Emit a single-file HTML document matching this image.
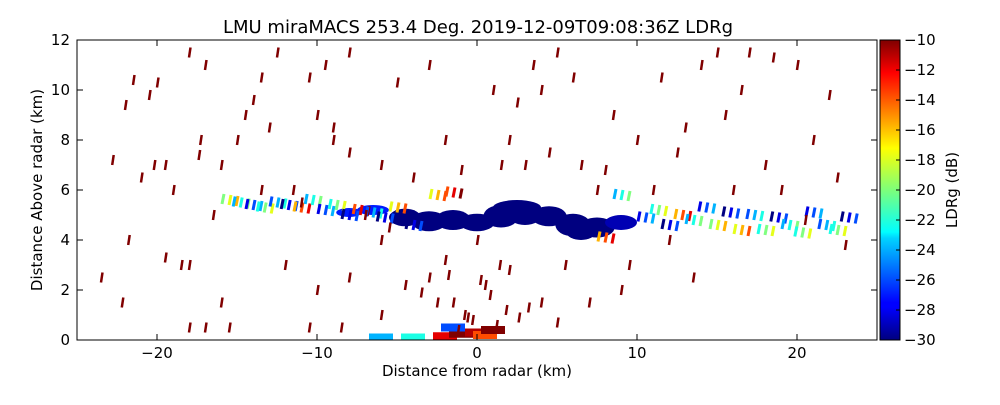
<!DOCTYPE html>
<html><head><meta charset="utf-8"><style>
body{margin:0;background:#fff;font-family:"Liberation Sans","DejaVu Sans",sans-serif}
svg text{font-family:"DejaVu Sans","Liberation Sans",sans-serif}
</style></head><body>
<svg id="c" width="1000" height="400" xmlns="http://www.w3.org/2000/svg">
<defs><linearGradient id="jet" x1="0" y1="1" x2="0" y2="0">
<stop offset="0" stop-color="#00007f"/><stop offset="0.11" stop-color="#0000ff"/><stop offset="0.125" stop-color="#0000ff"/><stop offset="0.34" stop-color="#00d4ff"/><stop offset="0.36" stop-color="#0ff"/><stop offset="0.5" stop-color="#7dff7a"/><stop offset="0.64" stop-color="#ff0"/><stop offset="0.66" stop-color="#ffea00"/><stop offset="0.89" stop-color="#f00"/><stop offset="1" stop-color="#7f0000"/></linearGradient>
<clipPath id="pc"><rect x="77" y="40" width="800" height="300"/></clipPath></defs>
<text x="478" y="33" font-size="18" text-anchor="middle">LMU miraMACS 253.4 Deg. 2019-12-09T09:08:36Z  LDRg</text>
<g id="marks" clip-path="url(#pc)"></g>
<rect x="77" y="40" width="800" height="300" fill="none" stroke="#000"/>
<g id="axes"></g>
<rect x="880" y="40" width="20" height="300" fill="url(#jet)" stroke="#000"/>
<g id="cb"></g>
<text x="477" y="376" font-size="15" text-anchor="middle">Distance from radar (km)</text>
<text transform="translate(42,190) rotate(-90)" font-size="15" text-anchor="middle">Distance Above radar  (km)</text>
<text transform="translate(957,190) rotate(-90)" font-size="15" text-anchor="middle">LDRg (dB)</text>
</svg>
<script>
const xTicks=[-20,-10,0,10,20];
const yTicks=[0,2,4,6,8,10,12];
const cbTicks=[-10,-12,-14,-16,-18,-20,-22,-24,-26,-28,-30];
const dashX=[-23.5,-22.2,-21.8,-22.8,-22,-21.5,-20.5,-20,-21,-20.2,-19.5,-19,-19.5,-18.5,-18,-18,-17,-17.3,-17.4,-16,-16.5,-17,-18,-16,-15.5,-15,-14,-13.5,-12.5,-13,-13.5,-11.5,-12,-10.5,-10,-10,-10.5,-9.5,-8,-9,-8,-8,-8.5,-6,-6,-6,-5,-3,-2,-3,-2,0,1,2,3,3.5,4,5,6,6.5,7,7.5,8.5,9.5,10,11,11.5,12,12.5,13,13.5,14,15,15.5,16,16.5,17,18,18.5,19,20,20.5,21,22,22.5,23,-7,-4,-1,1.5,4.5,8,-11,-14.5,-9,-5.5,2.5,5.5,9,-1.5,0.5,-0.8,1.2,-2.5,2,-0.3,-1.2,0.8,1.8,-0.6,0.2,1.4,-1.8,2.6,3.2,-3.5,4,5,-4.5];
const dashY=[2.5,1.5,4,7.2,9.4,10.4,9.8,10.3,6.5,7,7,6,3.3,3,3,11.5,11,8,7.4,7,5,0.5,0.5,1.5,0.5,8,9.6,10.5,11.5,8.5,6,6,3,0.5,2,9,10.5,11,11.5,8.5,7.5,2.5,0.5,1,4,7,10.3,11,8,2.5,3.2,4,10,8,7,11,10,11.5,10.5,7,1.5,6,9,3,8,6,10.5,4,7.5,8.5,2.5,11,11.5,9,6,10,11.5,7,11.3,6,11,4.8,8,9.8,6.5,3.8,5,6.5,6.8,7,7.5,6.8,5.5,9,8,4.5,9.5,3,2,1.5,2.2,1,0.6,1.5,2.8,0.8,0.4,1.8,1.2,0.9,2.4,3,2.6,0.9,1.3,1.9,1.5,0.7,2.2,1.1];
const bandX=[-15.5,-14.8,-14,-13.3,-12.5,-11.8,-11,-10.3,-9.5,-8.8,-8,-7.3,-6.5,-5.8,-5,10.5,11.3,12,12.8,13.5,14.3,15,15.8,16.5,17.3,18,18.8,19.5,20.3,21,21.8,22.5,23.2,-1.5,-2.5,-4,8,9];
const bandY=[5.6,5.5,5.4,5.3,5.5,5.4,5.3,5.6,5.2,5.4,5.0,5.2,5.1,4.9,5.3,4.9,5.2,4.6,5.0,4.8,5.3,4.6,5.1,4.4,5.0,4.4,4.9,4.6,4.3,5.1,4.6,4.4,4.9,5.9,5.8,4.6,4.1,5.8];
const bandV=[-18,-22,-26,-20,-24,-28,-14,-22,-26,-20,-28,-12,-24,-28,-16,-26,-20,-28,-14,-22,-26,-18,-28,-16,-24,-20,-28,-22,-20,-26,-24,-20,-28,-12,-16,-28,-14,-22];
const blobX=[-4.5,-3,-1.5,0,1.5,3,4.5,6,7.5,9,-6.5,-8,2.5,6.5];
const blobY=[4.9,4.75,4.8,4.7,4.95,5.05,4.95,4.6,4.5,4.7,5.2,5.1,5.3,4.3];
const blobRx=[1.0,1.1,1.1,1.1,1.1,1.1,1.1,1.1,1.1,1.0,1.0,0.8,1.5,0.9];
const blobRy=[0.35,0.4,0.4,0.35,0.45,0.45,0.4,0.45,0.4,0.3,0.2,0.18,0.3,0.3];
const blobV=[-30,-30,-30,-30,-30,-30,-30,-30,-30,-29,-27,-27,-30,-30];
// near-surface clutter (km, km, dB)
const surfX=[-2,-1,0,0.5,-4,-6,-1.5,1];
const surfY=[0.15,0.25,0.3,0.2,0.1,0.1,0.5,0.4];
const surfV=[-12,-10,-11,-14,-22,-24,-26,-10];

const X=v=>477+v*16, Y=v=>340-v*25, C=v=>40+(-10-v)*15;
function jet(v){let t=(v+30)/20;t=Math.max(0,Math.min(1,t));
 const f=x=>Math.round(255*Math.max(0,Math.min(1,1.5-Math.abs(4*t-x))));
 return `rgb(${f(3)},${f(2)},${f(1)})`;}
const NS='http://www.w3.org/2000/svg';
const mk=(p,t,a)=>{const e=document.createElementNS(NS,t);for(const k in a)e.setAttribute(k,a[k]);p.appendChild(e);return e;};
const marks=document.getElementById('marks'),axes=document.getElementById('axes'),cb=document.getElementById('cb');
blobX.forEach((x,i)=>{const e=mk(marks,'ellipse',{cx:X(x),cy:Y(blobY[i]),rx:blobRx[i]*16,ry:blobRy[i]*25,fill:jet(blobV[i])});

});
surfX.forEach((x,i)=>{const e=mk(marks,'rect',{x:X(x)-12,y:Y(surfY[i])-4,width:24,height:8,fill:jet(surfV[i])});

});
bandX.forEach((x,i)=>{for(let k=-1;k<=1;k++){const e=mk(marks,'line',{x1:X(x)+k*7,y1:Y(bandY[i])+5+k,x2:X(x)+k*7+2,y2:Y(bandY[i])-5+k,stroke:jet(bandV[i]+k*2),'stroke-width':3});

}});
dashX.forEach((x,i)=>{const e=mk(marks,'line',{x1:X(x),y1:Y(dashY[i])+5,x2:X(x)+1.5,y2:Y(dashY[i])-5,stroke:'#800000','stroke-width':2.5});

});
xTicks.forEach(v=>{mk(axes,'line',{x1:X(v),x2:X(v),y1:340,y2:334,stroke:'#000'});mk(axes,'line',{x1:X(v),x2:X(v),y1:40,y2:46,stroke:'#000'});
const t=mk(axes,'text',{x:X(v),y:358,'font-size':15,'text-anchor':'middle'});t.textContent=v<0?'\u2212'+(-v):v;

});
yTicks.forEach(v=>{mk(axes,'line',{x1:77,x2:83,y1:Y(v),y2:Y(v),stroke:'#000'});mk(axes,'line',{x1:877,x2:871,y1:Y(v),y2:Y(v),stroke:'#000'});
const t=mk(axes,'text',{x:70,y:Y(v)+5,'font-size':15,'text-anchor':'end'});t.textContent=v;

});
cbTicks.forEach(v=>{mk(cb,'line',{x1:896,x2:900,y1:C(v),y2:C(v),stroke:'#000'});
const t=mk(cb,'text',{x:904,y:C(v)+5,'font-size':15});t.textContent='\u2212'+(-v);

});
</script>
</body></html>
